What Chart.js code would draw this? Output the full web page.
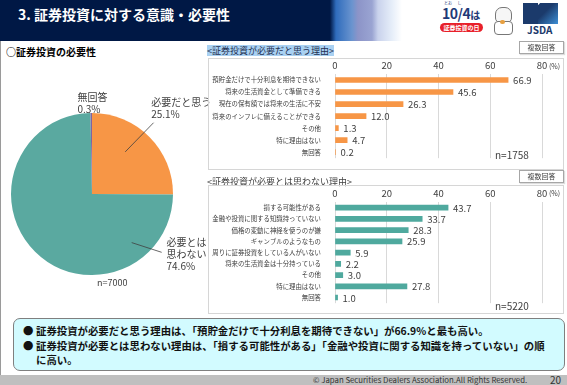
<!DOCTYPE html>
<html lang="ja">
<head>
<meta charset="utf-8">
<script src="https://cdn.jsdelivr.net/npm/chart.js@4.4.0/dist/chart.umd.min.js"></script>
<style>
  body { margin:0; width:567px; height:385px; overflow:hidden; position:relative; background:#fff;
         font-family:"Noto Sans CJK JP", "Noto Sans", sans-serif; color:#404040; }
  .abs { position:absolute; white-space:nowrap; }
  #header { left:0; top:0; width:567px; height:41px;
    background:linear-gradient(to right, #001845 0, #001845 330px, #2f6cbc 336px, #6a94cf 352px, #8c94c8 358px, #9aa4d2 372px, #c9d2ec 378px, #e6eef9 392px, #ffffff 402px); }
  #title { left:18px; top:3px; color:#fff; font-size:14px; font-weight:bold; line-height:22px; }
  .box { position:absolute; border:1px solid #d6d6d6; box-sizing:border-box; }
  .tag { position:absolute; width:45px; height:13px; border:1px solid #a6a6a6; box-sizing:border-box; background:#fff;
         font-size:7px; line-height:11px; text-align:center; color:#404040; box-shadow:1px 1px 1px #ddd; }
  .sub { font-size:9px; line-height:11px; color:#1f2f50; }
  .sum { font-size:10.4px; font-weight:bold; color:#111; line-height:14.5px; }
</style>
</head>
<body>
<div id="header" class="abs"></div>
<div id="title" class="abs">3. 証券投資に対する意識・必要性</div>

<!-- logos -->
<div class="abs" style="left:444px;top:1px;font-size:4px;color:#1f3a78;line-height:5px;">とお&nbsp;&nbsp;&nbsp;&nbsp;&nbsp;&nbsp;し</div>
<div class="abs" style="left:442px;top:5px;font-size:14px;font-weight:bold;color:#1f3a78;line-height:16px;letter-spacing:-0.5px;">10/4<span style="font-size:10px;">は</span></div>
<div class="abs" style="left:440px;top:23px;width:43px;height:9px;border-radius:5px;background:#e8202a;color:#fff;font-size:6px;font-weight:bold;line-height:9px;text-align:center;">証券投資の日</div>
<div class="abs" style="left:495px;top:7px;width:15px;height:14px;border:1px solid #777;border-radius:7px 7px 5px 5px;background:#f6f6f6;"></div>
<div class="abs" style="left:494px;top:21px;width:17px;height:12px;border:1px solid #777;border-radius:4px;background:#fff;"></div>
<div class="abs" style="left:500px;top:20px;width:5px;height:4px;border-radius:2px;background:#e8a040;"></div>
<div class="abs" style="left:523px;top:3px;width:35px;height:21px;background:linear-gradient(135deg,#ffffff 0,#ffffff 30%,#1b3a6b 31%,#1b3a6b 55%,#3d8fd6 100%);"></div>
<div class="abs" style="left:523px;top:3px;width:15px;height:21px;background:#1b3a6b;"></div>
<div class="abs" style="left:527px;top:24px;font-size:10px;font-weight:bold;color:#1b3a6b;line-height:12px;">JSDA</div>

<!-- left frame -->
<div class="abs" style="left:0;top:41px;width:1px;height:334px;background:#9a9a9a;"></div>

<!-- pie section -->
<div class="abs" style="left:6px;top:45px;font-size:10px;font-weight:bold;color:#000;line-height:14px;">○証券投資の必要性</div>
<canvas id="pie" class="abs" style="left:0;top:88px;" width="218" height="205"></canvas>
<div class="abs" style="left:97px;top:277px;font-size:9px;line-height:12px;color:#404040;">n=7000</div>

<!-- bar 1 -->
<div class="abs sub" style="left:207px;top:45px;background:#a9d1f2;">&lt;証券投資が必要だと思う理由&gt;</div>
<div class="tag" style="left:519px;top:41px;">複数回答</div>
<div class="box" style="left:208px;top:58px;width:356px;height:112px;"></div>
<canvas id="bar1" class="abs" style="left:208px;top:58px;" width="355" height="110"></canvas>
<div class="abs" style="left:495px;top:149px;font-size:10px;line-height:12px;color:#404040;">n=1758</div>

<!-- bar 2 -->
<div class="abs sub" style="left:207px;top:176px;color:#404040;">&lt;証券投資が必要とは思わない理由&gt;</div>
<div class="tag" style="left:519px;top:170px;">複数回答</div>
<div class="box" style="left:208px;top:185px;width:356px;height:129px;"></div>
<canvas id="bar2" class="abs" style="left:208px;top:185px;" width="355" height="128"></canvas>
<div class="abs" style="left:495px;top:300px;font-size:10px;line-height:12px;color:#404040;">n=5220</div>

<!-- summary box -->
<div class="abs" style="left:13px;top:318px;width:552px;height:53px;box-sizing:border-box;border:1.5px solid #7f7f7f;border-radius:7px;background:#d2fbff;"></div>
<div class="abs sum" style="left:23px;top:324px;">●</div>
<div class="abs sum" style="left:36px;top:324px;">証券投資が必要だと思う理由は、「預貯金だけで十分利息を期待できない」が66.9%と最も高い。</div>
<div class="abs sum" style="left:23px;top:339px;">●</div>
<div class="abs sum" style="left:36px;top:339px;">証券投資が必要とは思わない理由は、「損する可能性がある」「金融や投資に関する知識を持っていない」の順</div>
<div class="abs sum" style="left:36px;top:353px;">に高い。</div>

<!-- footer -->
<div class="abs" style="left:0;top:375px;width:567px;height:10px;background:#bfbfbf;"></div>
<div class="abs" style="left:313px;top:374px;font-size:7.8px;line-height:12px;color:#333;">© Japan Securities Dealers Association.All Rights Reserved.</div>
<div class="abs" style="left:550px;top:373px;font-size:10px;line-height:13px;color:#333;">20</div>

<script>
// 証券投資の必要性 (円グラフ)
const pieLabels = [["必要だと思う"], ["必要とは", "思わない"], ["無回答"]];
const pieValues = [25.1, 74.6, 0.3];
const pieColors = ["#f79646", "#5aa9a0", "#8064a2"];

// 証券投資が必要だと思う理由
const needLabels = ["預貯金だけで十分利息を期待できない", "将来の生活資金として準備できる", "現在の保有額では将来の生活に不安",
  "将来のインフレに備えることができる", "その他", "特に理由はない", "無回答"];
const needValues = [66.9, 45.6, 26.3, 12.0, 1.3, 4.7, 0.2];

// 証券投資が必要とは思わない理由
const notNeedLabels = ["損する可能性がある", "金融や投資に関する知識持っていない", "価格の変動に神経を使うのが嫌",
  "ギャンブルのようなもの", "周りに証券投資をしている人がいない", "将来の生活資金は十分持っている", "その他",
  "特に理由はない", "無回答"];
const notNeedValues = [43.7, 33.7, 28.3, 25.9, 5.9, 2.2, 3.0, 27.8, 1.0];

const xTicks = [0, 20, 40, 60, 80];

Chart.defaults.font.family = '"Noto Sans CJK JP", "Noto Sans", sans-serif';
Chart.defaults.color = "#404040";

// 円グラフのラベル (位置は半径に対する比率)
const pieLabelPlugin = {
  id: "pieLabelPlugin",
  afterDatasetsDraw(chart, args, opts) {
    const ctx = chart.ctx;
    const meta = chart.getDatasetMeta(0);
    ctx.save();
    ctx.font = "10px " + Chart.defaults.font.family;
    ctx.fillStyle = "#404040";
    ctx.textBaseline = "middle";
    ctx.textAlign = "left";
    meta.data.forEach((arc, i) => {
      const p = opts.pos[i];
      const r = arc.outerRadius;
      const cx = arc.x, cy = arc.y;
      const lines = pieLabels[i].concat([pieValues[i].toFixed(1) + "%"]);
      lines.forEach((t, k) => {
        ctx.fillText(t, cx + p.dx * r, cy + p.dy * r + k * 12);
      });
      if (p.line) {
        ctx.strokeStyle = "#404040";
        ctx.lineWidth = 0.8;
        ctx.beginPath();
        ctx.moveTo(cx + p.line[0] * r, cy + p.line[1] * r);
        ctx.lineTo(cx + p.line[2] * r, cy + p.line[3] * r);
        ctx.stroke();
      }
    });
    ctx.restore();
  }
};

new Chart(document.getElementById("pie"), {
  type: "pie",
  data: {
    labels: pieLabels.map(l => l.join("")),
    datasets: [{ data: pieValues, backgroundColor: pieColors, borderWidth: 0 }]
  },
  options: {
    responsive: false,
    animation: false,
    layout: { padding: { left: 11, right: 45, top: 25, bottom: 18 } },
    plugins: {
      legend: { display: false },
      tooltip: { enabled: false },
      pieLabelPlugin: {
        pos: [
          { dx: 0.73, dy: -1.13, line: [0.41, -0.52, 0.76, -0.88] },
          { dx: 0.92, dy: 0.6, line: [0.49, 0.6, 0.86, 0.72] },
          { dx: -0.18, dy: -1.2, line: null }
        ]
      }
    }
  },
  plugins: [pieLabelPlugin]
});

// 棒グラフの値ラベルと (%) 表示
const barValuePlugin = {
  id: "barValuePlugin",
  afterDatasetsDraw(chart) {
    const ctx = chart.ctx;
    const meta = chart.getDatasetMeta(0);
    const values = chart.data.datasets[0].data;
    ctx.save();
    ctx.font = "9.5px " + Chart.defaults.font.family;
    ctx.fillStyle = "#404040";
    ctx.textBaseline = "middle";
    ctx.textAlign = "left";
    meta.data.forEach((bar, i) => {
      ctx.fillText(values[i].toFixed(1), bar.x + 5, bar.y + 0.5);
    });
    const xs = chart.scales.x;
    ctx.font = "7px " + Chart.defaults.font.family;
    ctx.fillText("(%)", xs.getPixelForValue(80) + 7, 8);
    ctx.restore();
  }
};

function makeBar(id, labels, values, color, axisHeight) {
  return new Chart(document.getElementById(id), {
    type: "bar",
    data: {
      labels: labels,
      datasets: [{ data: values, backgroundColor: color, barThickness: 5 }]
    },
    options: {
      indexAxis: "y",
      responsive: false,
      animation: false,
      layout: { padding: { right: 21, bottom: 1, top: 0, left: 0 } },
      plugins: { legend: { display: false }, tooltip: { enabled: false } },
      scales: {
        x: {
          position: "top",
          min: 0, max: 80,
          afterBuildTicks: (s) => { s.ticks = xTicks.map(v => ({ value: v })); },
          afterFit: (s) => { s.height = axisHeight; },
          grid: { color: "#d9d9d9", drawTicks: false, lineWidth: 1 },
          border: { display: false },
          ticks: { font: { size: 9.5 }, color: "#404040", padding: 3 }
        },
        y: {
          afterFit: (s) => { s.width = 127; },
          grid: { display: false },
          border: { display: false },
          ticks: { font: { size: 6.4 }, color: "#404040", padding: 6, autoSkip: false }
        }
      }
    },
    plugins: [barValuePlugin]
  });
}

makeBar("bar1", needLabels, needValues, "#f79646", 16);
makeBar("bar2", notNeedLabels, notNeedValues, "#4fa99e", 17);
</script>
</body>
</html>
